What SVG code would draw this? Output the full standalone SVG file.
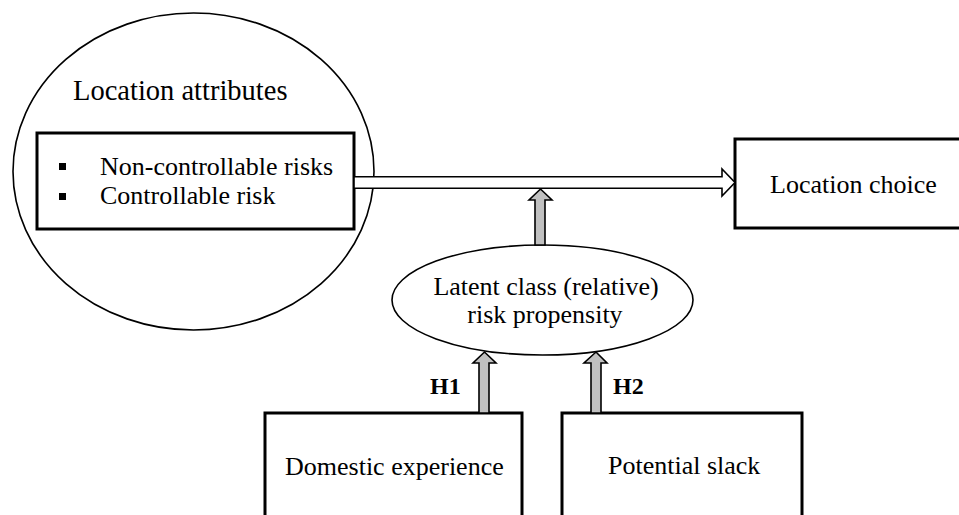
<svg xmlns="http://www.w3.org/2000/svg" width="959" height="515" viewBox="0 0 959 515">
<style>
text{font-family:"Liberation Serif","Times New Roman",serif;font-size:26px;fill:#000}
.title{font-size:28.5px}
.box{fill:#fff;stroke:#000;stroke-width:3}
.oval{fill:#fff;stroke:#000;stroke-width:1.6}
.hollow{fill:#fff;stroke:#000;stroke-width:1.6;stroke-linejoin:miter}
.gray{fill:#c0c0c0;stroke:#000;stroke-width:1.6;stroke-linejoin:miter}
.lbl{font-weight:bold;font-size:24px}
</style>
<rect width="959" height="515" fill="#fff"/>
<g id="location-attributes">
<ellipse class="oval" cx="193.5" cy="171.5" rx="180.5" ry="158.5"/>
<text class="title" x="73" y="100">Location attributes</text>
<rect class="box" x="37" y="133" width="317" height="96"/>
<rect x="59" y="163" width="7" height="7" fill="#000"/>
<rect x="59" y="193" width="7" height="7" fill="#000"/>
<text x="100" y="175">Non-controllable risks</text>
<text x="100" y="204">Controllable risk</text>
</g>
<g id="location-choice">
<rect class="box" x="735" y="139" width="240" height="89"/>
<text x="770" y="193">Location choice</text>
</g>
<g id="latent-class">
<ellipse class="oval" cx="542.5" cy="300" rx="150.5" ry="55"/>
<text x="546" y="295" text-anchor="middle">Latent class (relative)</text>
<text x="545" y="323" text-anchor="middle">risk propensity</text>
</g>
<g id="domestic-experience">
<rect class="box" x="265" y="413" width="257" height="120"/>
<text x="285" y="475">Domestic experience</text>
</g>
<g id="potential-slack">
<rect class="box" x="562" y="413" width="240" height="120"/>
<text x="608" y="474">Potential slack</text>
</g>
<g id="connectors">
<polygon class="hollow" points="354,176.7 722,176.7 722,169 735,182.5 722,196 722,188.3 354,188.3"/>
<polygon class="gray" points="535,245 535,200 529,200 540.5,189 552,200 545,200 545,245"/>
<polygon class="gray" points="479,413 479,363 473,363 484.5,352 496,363 489,363 489,413"/>
<polygon class="gray" points="591,413 591,363 584,363 596,352 607,363 601,363 601,413"/>
<text class="lbl" x="430" y="394">H1</text>
<text class="lbl" x="613" y="394">H2</text>
</g>
</svg>
